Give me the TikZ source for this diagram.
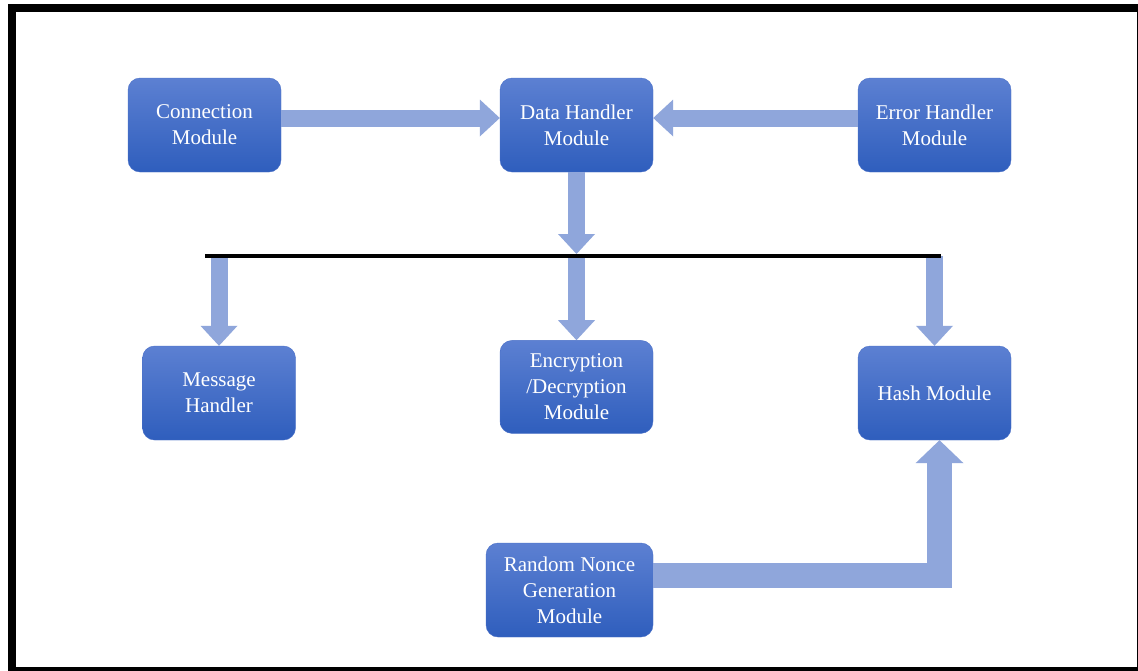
\documentclass[tikz,border=0pt]{standalone}
\usepackage{fontspec}
\setmainfont{Liberation Serif}
\usetikzlibrary{arrows.meta,positioning,calc}
\definecolor{boxtop}{HTML}{5C80D2}
\definecolor{boxbot}{HTML}{2F5EBD}
\definecolor{boxedge}{HTML}{4A70C8}
\definecolor{flow}{HTML}{8FA6DB}

\begin{document}
\begin{tikzpicture}[
  x=1pt, y=-1pt,
  module/.style={draw=boxedge, top color=boxtop, bottom color=boxbot, rounded corners=12pt,
    align=center, text=white, font=\fontsize{21}{26}\selectfont,
    minimum width=153pt, minimum height=94pt, inner sep=2pt},
  flowarr/.style={draw=flow, line width=17pt, -{Triangle[width=37pt, length=20pt, line width=0pt]}},
  bigarr/.style={draw=flow, line width=25pt, line join=miter, -{Triangle[width=48pt, length=23pt, line width=0pt]}},
  bus/.style={line width=4pt, black}]
  \clip (0,0) rectangle (1138,670);
  \fill[white] (0,0) rectangle (1138,670);
  \draw[line width=8pt] (12,8) rectangle (1141,671);
  % top row
  \node[module] (data) at (576.5,125) {Data Handler\\Module};
  \node[module] (conn) at (204.5,125) {Connection\\Module};
  \node[module] (err) at (934.5,125) {Error Handler\\Module};
  % bottom row
  \node[module, below=168pt of data, minimum height=93pt] (enc) {Encryption\\/Decryption\\Module};
  \node[module] (msg) at (219,393) {Message\\Handler};
  \node[module] (hash) at (934.5,393) {Hash Module};
  \node[module, minimum width=167pt] (rnd) at (569.5,590) {Random Nonce\\Generation\\Module};
  % bus line
  \coordinate (busL) at (205,256);
  \coordinate (busR) at (941,256);
  \draw[flowarr] ([yshift=7pt]conn.east) -- ([yshift=7pt]data.west);
  \draw[flowarr] ([yshift=7pt]err.west) -- ([yshift=7pt]data.east);
  \draw[flowarr, shorten >=2pt] (data.south) -- (data.south |- busL);
  \draw[flowarr] (msg.north |- busL) -- (msg.north);
  \draw[flowarr] (enc.north |- busL) -- (enc.north);
  \draw[flowarr] (hash.north |- busL) -- (hash.north);
  \draw[bus] (busL) -- (busR);
  \draw[bigarr] ([yshift=14.5pt]rnd.east) -| ([xshift=5pt]hash.south);
\end{tikzpicture}
\end{document}
